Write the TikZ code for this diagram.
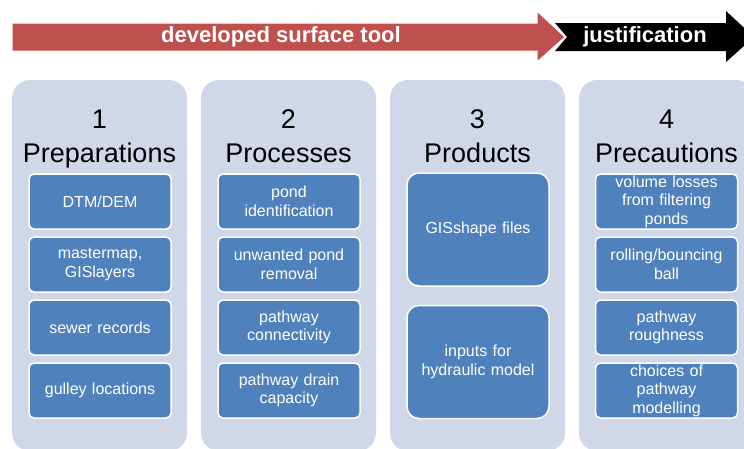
\documentclass[tikz,border=0pt]{standalone}
\usepackage{fontspec}
\setmainfont{Liberation Sans}

\definecolor{panelgray}{RGB}{208,215,232}
\definecolor{itemblue}{RGB}{79,129,189}
\definecolor{toolred}{RGB}{192,80,77}

\def\toolarrow{(12,23) -- (537,23) -- (537,11) -- (565,37) -- (537,62) -- (537,51) -- (12,51) -- cycle}
\def\justarrow{(555,23) -- (726,23) -- (726,11) -- (754,37) -- (726,62) -- (726,51) -- (555,51) -- (567,37) -- cycle}

\tikzset{
  panel/.style={fill=panelgray, rounded corners=18pt, minimum width=175pt, minimum height=371pt, inner sep=0pt},
  item/.style={fill=itemblue, draw=white, line width=1.5pt, rounded corners=5pt, minimum width=142pt, minimum height=55pt, text width=140pt, align=center, inner sep=0pt, text=white, font=\fontsize{16}{18.5}\selectfont},
  bigitem/.style={item, rounded corners=12pt, minimum height=113pt},
  heading/.style={font=\fontsize{27}{32}\selectfont, inner sep=0pt, anchor=base},
  banner/.style={text=white, font=\fontsize{22}{26}\selectfont\bfseries, inner sep=0pt}
}

\begin{document}
\begin{tikzpicture}[x=1pt,y=-1pt]
  \useasboundingbox (0,0) rectangle (744,448);
  \clip (0,0) rectangle (744,448);

  % arrows on top
  \fill[black] \justarrow;
  \filldraw[fill=toolred, draw=white, line width=1pt] \toolarrow;
  \node[banner] (tool) at (281,37) {developed surface tool};
  \node[banner] (just) at (645,37) {justification};

  % panels
  \node[panel] (panel1) at (99.5,265.5) {};
  \node[panel] (panel2) at (288.5,265.5) {};
  \node[panel] (panel3) at (477.5,265.5) {};
  \node[panel] (panel4) at (666.5,265.5) {};

  \node[heading] (num1) at (99.5,128) {1};
  \node[heading] (title1) at (99.5,162) {Preparations};
  \node[heading] (num2) at (288.5,128) {2};
  \node[heading] (title2) at (288.5,162) {Processes};
  \node[heading] (num3) at (477.5,128) {3};
  \node[heading] (title3) at (477.5,162) {Products};
  \node[heading] (num4) at (666.5,128) {4};
  \node[heading] (title4) at (666.5,162) {Precautions};

  % preparations
  \node[item] (prep1) at (100,201.5) {DTM/DEM};
  \node[item] (prep2) at (100,264.5) {mastermap,\\GISlayers};
  \node[item] (prep3) at (100,327.5) {sewer records};
  \node[item] (prep4) at (100,390.5) {gulley locations};

  % processes
  \node[item] (proc1) at (289,201.5) {pond\\identification};
  \node[item] (proc2) at (289,264.5) {unwanted pond\\removal};
  \node[item] (proc3) at (289,327.5) {pathway\\connectivity};
  \node[item] (proc4) at (289,390.5) {pathway drain\\capacity};

  % products
  \node[bigitem] (prod1) at (478,229.5) {GISshape files};
  \node[bigitem] (prod2) at (478,362) {inputs for\\hydraulic model};

  % precautions
  \node[item] (prec1) at (666.5,201.5) {volume losses\\from filtering\\ponds};
  \node[item] (prec2) at (666.5,264.5) {rolling/bouncing\\ball};
  \node[item] (prec3) at (666.5,327.5) {pathway\\roughness};
  \node[item] (prec4) at (666.5,390.5) {choices of\\pathway\\modelling};

\end{tikzpicture}
\end{document}
